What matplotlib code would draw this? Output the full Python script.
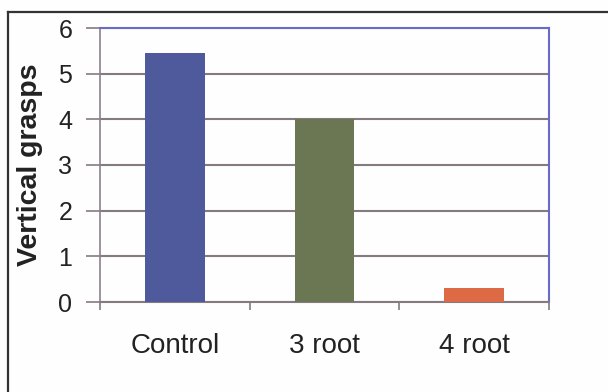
import matplotlib
matplotlib.use("Agg")
import matplotlib.pyplot as plt
from matplotlib.lines import Line2D

categories = ["Control", "3 root", "4 root"]
values = [5.45, 4.0, 0.3]
bar_colors = ["#4E5A9C", "#6B7652", "#DD6A45"]
y_ticks = [0, 1, 2, 3, 4, 5, 6]

plt.rcParams["font.family"] = ["Liberation Sans", "DejaVu Sans"]

fig = plt.figure(figsize=(6.08, 3.92), dpi=100, facecolor="#FEFEFE")
ax = fig.add_axes([100 / 608, 1 - 302 / 392, 449 / 608, 274 / 392])
ax.set_facecolor("#FEFEFE")

x = list(range(len(categories)))
ax.bar(x, values, width=0.4, color=bar_colors, zorder=3)

ax.set_xlim(-0.5, len(categories) - 0.5)
ax.set_ylim(0, 6)
ax.set_yticks(y_ticks)
ax.set_yticklabels([str(v) for v in y_ticks], fontsize=18, color="#222222")
ax.set_xticks([i + 0.5 for i in [-1] + x])
ax.set_xticklabels([])
ax.set_xticks(x, minor=True)
ax.set_xticklabels(categories, minor=True, fontsize=20, color="#222222")

grid_color = "#857A80"
for v in y_ticks:
    ax.axhline(v, color=grid_color, lw=1.5, zorder=1)

ax.tick_params(axis="y", length=10, width=1.2, color=grid_color, pad=10)
ax.tick_params(axis="x", which="major", length=6, width=1.2,
               color=grid_color, direction="out")
ax.tick_params(axis="x", which="minor", length=0, pad=22)

ax.spines["left"].set_color("#8A8090")
ax.spines["left"].set_linewidth(1.2)
ax.spines["bottom"].set_color(grid_color)
ax.spines["bottom"].set_linewidth(1.5)
for side in ("top", "right"):
    ax.spines[side].set_color("#6A6AC8")
    ax.spines[side].set_linewidth(1.5)

ax.set_ylabel("Vertical grasps", fontsize=20.5, fontweight="bold", color="#222222")
ax.yaxis.set_label_coords(-0.126, 0.5)

# page frame around the chart
fig.add_artist(Line2D([8 / 608, 8 / 608], [0, 1 - 12 / 392],
                      transform=fig.transFigure, color="#333333", lw=1.6))
fig.add_artist(Line2D([8 / 608, 1], [1 - 12 / 392, 1 - 12 / 392],
                      transform=fig.transFigure, color="#333333", lw=1.6))

fig.savefig("out.png", dpi=100, facecolor=fig.get_facecolor())
